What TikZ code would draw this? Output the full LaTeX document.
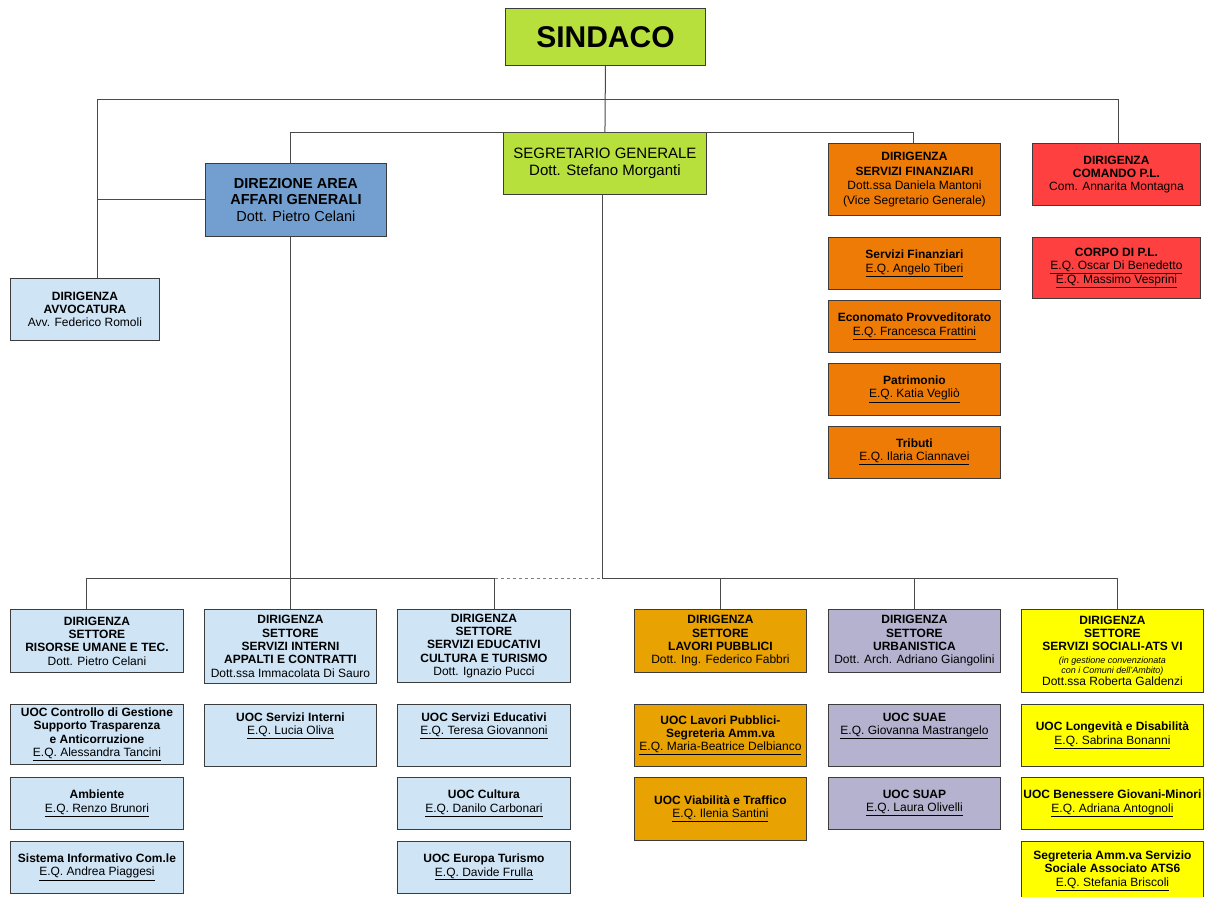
\documentclass[tikz,border=0pt]{standalone}
\usepackage{fontspec}
\setmainfont{Liberation Sans}
\usetikzlibrary{positioning}

\definecolor{limegr}{HTML}{B7E03C}
\definecolor{dirblue}{HTML}{729FCF}
\definecolor{paleblue}{HTML}{CFE4F5}
\definecolor{orng}{HTML}{EE7B06}
\definecolor{plred}{HTML}{FF4040}
\definecolor{gold}{HTML}{E8A202}
\definecolor{lavgrey}{HTML}{B4B2CE}
\definecolor{brightyel}{HTML}{FFFF00}
\definecolor{boxline}{HTML}{3C3C3C}
\definecolor{linegray}{HTML}{4A4A4A}

\newcommand{\eqname}[1]{\underline{E.Q. #1}}

\begin{document}
\begin{tikzpicture}[
    x=1pt, y=1pt,
    node distance=10pt,
    unit/.style={draw=boxline, line width=0.9pt, align=center, inner sep=1pt,
        font=\fontsize{12}{13.3}\selectfont},
    sz/.style 2 args={minimum width=#1pt, minimum height=#2pt},
    greenbox/.style={unit, fill=limegr},
    bluebox/.style={unit, fill=dirblue},
    palebox/.style={unit, fill=paleblue},
    orangebox/.style={unit, fill=orng},
    redbox/.style={unit, fill=plred},
    goldbox/.style={unit, fill=gold},
    lavbox/.style={unit, fill=lavgrey},
    yelbox/.style={unit, fill=brightyel},
    conn/.style={draw=linegray, line width=1pt}
]
\useasboundingbox (0,0) rectangle (1205,-897);

% Vertice
\node[greenbox, sz={200}{57}, anchor=north west, font=\fontsize{30}{33}\selectfont\bfseries]
    (sindaco) at (505,-8) {SINDACO};
\node[greenbox, sz={203}{62}, anchor=north west, font=\fontsize{15}{17.5}\selectfont]
    (segretario) at (503,-132) {SEGRETARIO GENERALE\\Dott. Stefano Morganti};
\node[bluebox, sz={181}{73}, anchor=north west, font=\fontsize{14.5}{16.5}\selectfont]
    (direzione) at (205,-163) {\textbf{DIREZIONE AREA}\\\textbf{AFFARI GENERALI}\\Dott. Pietro Celani};
\node[palebox, sz={149}{62}, anchor=north west]
    (avvocatura) at (10,-278) {\textbf{DIRIGENZA}\\\textbf{AVVOCATURA}\\Avv. Federico Romoli};

% Servizi finanziari
\node[orangebox, sz={172}{72}, anchor=north west, font=\fontsize{12}{14.5}\selectfont]
    (finanz) at (828,-143) {\textbf{DIRIGENZA}\\\textbf{SERVIZI FINANZIARI}\\Dott.ssa Daniela Mantoni\\(Vice Segretario Generale)};
\node[orangebox, sz={172}{52}, below=21pt of finanz] (servfin) {\textbf{Servizi Finanziari}\\\eqname{Angelo Tiberi}};
\node[orangebox, sz={172}{52}, below=of servfin] (economato) {\textbf{Economato Provveditorato}\\\eqname{Francesca Frattini}};
\node[orangebox, sz={172}{52}, below=of economato] (patrimonio) {\textbf{Patrimonio}\\\eqname{Katia Vegliò}};
\node[orangebox, sz={172}{52}, below=of patrimonio] (tributi) {\textbf{Tributi}\\\eqname{Ilaria Ciannavei}};

% Polizia locale
\node[redbox, sz={168}{62}, anchor=north west]
    (comando) at (1032,-143) {\textbf{DIRIGENZA}\\\textbf{COMANDO P.L.}\\Com. Annarita Montagna};
\node[redbox, sz={168}{61}, below=31pt of comando] (corpo) {\textbf{CORPO DI P.L.}\\\eqname{Oscar Di Benedetto}\\\eqname{Massimo Vesprini}};

% Settori
\node[palebox, sz={173}{63}, anchor=north west] (risorse) at (10,-609)
    {\textbf{DIRIGENZA}\\\textbf{SETTORE}\\\textbf{RISORSE UMANE E TEC.}\\Dott. Pietro Celani};
\node[palebox, sz={172}{74}, anchor=north west] (interni) at (204,-609)
    {\textbf{DIRIGENZA}\\\textbf{SETTORE}\\\textbf{SERVIZI INTERNI}\\\textbf{APPALTI E CONTRATTI}\\Dott.ssa Immacolata Di Sauro};
\node[palebox, sz={173}{73}, anchor=north west] (educ) at (397,-609)
    {\textbf{DIRIGENZA}\\\textbf{SETTORE}\\\textbf{SERVIZI EDUCATIVI}\\\textbf{CULTURA E TURISMO}\\Dott. Ignazio Pucci};
\node[goldbox, sz={172}{63}, anchor=north west] (lavori) at (634,-609)
    {\textbf{DIRIGENZA}\\\textbf{SETTORE}\\\textbf{LAVORI PUBBLICI}\\Dott. Ing. Federico Fabbri};
\node[lavbox, sz={172}{63}, anchor=north west] (urban) at (828,-609)
    {\textbf{DIRIGENZA}\\\textbf{SETTORE}\\\textbf{URBANISTICA}\\Dott. Arch. Adriano Giangolini};
\node[yelbox, sz={182}{83}, anchor=north west] (sociali) at (1021,-609)
    {\textbf{DIRIGENZA}\\\textbf{SETTORE}\\\textbf{SERVIZI SOCIALI-ATS VI}\\[-1pt]
     {\fontsize{9}{10}\selectfont\itshape (in gestione convenzionata}\\[-3.5pt]
     {\fontsize{9}{10}\selectfont\itshape con i Comuni dell'Ambito)}\\[-0.5pt]
     Dott.ssa Roberta Galdenzi};

% Unita' operative
\node[palebox, sz={173}{60}, below=31pt of risorse] (controllo)
    {\textbf{UOC Controllo di Gestione}\\\textbf{Supporto Trasparenza}\\\textbf{e Anticorruzione}\\\eqname{Alessandra Tancini}};
\node[palebox, sz={173}{52}, below=12pt of controllo] (ambiente) {\textbf{Ambiente}\\\eqname{Renzo Brunori}};
\node[palebox, sz={173}{52}, below=11pt of ambiente] (sistema) {\textbf{Sistema Informativo Com.le}\\\eqname{Andrea Piaggesi}};

\node[palebox, sz={172}{62}, below=20pt of interni] (uocint) {\textbf{UOC Servizi Interni}\\\eqname{Lucia Oliva}\\[10pt]};

\node[palebox, sz={173}{62}, below=21pt of educ] (uocedu) {\textbf{UOC Servizi Educativi}\\\eqname{Teresa Giovannoni}\\[10pt]};
\node[palebox, sz={173}{52}, below=of uocedu] (cultura) {\textbf{UOC Cultura}\\\eqname{Danilo Carbonari}};
\node[palebox, sz={173}{52}, below=11pt of cultura] (europa) {\textbf{UOC Europa Turismo}\\\eqname{Davide Frulla}};

\node[goldbox, sz={172}{62}, below=31pt of lavori] (uoclav) {\textbf{UOC Lavori Pubblici-}\\\textbf{Segreteria Amm.va}\\\eqname{Maria-Beatrice Delbianco}};
\node[goldbox, sz={172}{63}, below=of uoclav] (viab) {\textbf{UOC Viabilità e Traffico}\\\eqname{Ilenia Santini}};

\node[lavbox, sz={172}{62}, below=31pt of urban] (suae) {\textbf{UOC SUAE}\\\eqname{Giovanna Mastrangelo}\\[10pt]};
\node[lavbox, sz={172}{52}, below=of suae] (suap) {\textbf{UOC SUAP}\\\eqname{Laura Olivelli}};

\node[yelbox, sz={182}{62}, below=11pt of sociali] (longev) {\textbf{UOC Longevità e Disabilità}\\\eqname{Sabrina Bonanni}};
\node[yelbox, sz={182}{52}, below=of longev] (benessere) {\textbf{UOC Benessere Giovani-Minori}\\\eqname{Adriana Antognoli}};
\node[yelbox, sz={182}{59}, below=11pt of benessere] (segreteria) {\textbf{Segreteria Amm.va Servizio}\\\textbf{Sociale Associato ATS6}\\\eqname{Stefania Briscoli}};

% Collegamenti
\coordinate (topL) at (97,-99);
\coordinate (topR) at (1118,-99);
\coordinate (midL) at (290,-132);
\coordinate (midR) at (913,-132);
\coordinate (lowbus) at (602,-578);

\draw[conn] (sindaco.south) -- (segretario.north);
\draw[conn] (topL) -- (topR);
\draw[conn] (topL) -- (topL |- avvocatura.north);
\draw[conn] (topL |- direzione.west) -- (direzione.west);
\draw[conn] (topR) -- (topR |- comando.north);
\draw[conn] (midL) -- (midR);
\draw[conn] (midL) -- (midL |- direzione.north);
\draw[conn] (midR) -- (midR |- finanz.north);
\draw[conn] (midL |- direzione.south) -- (midL |- lowbus);
\draw[conn] (segretario.south -| lowbus) -- (lowbus);

\draw[conn] ([xshift=-10pt]risorse.north |- lowbus) -- ([xshift=11pt]educ.north |- lowbus);
\draw[conn, draw=gray, line width=0.8pt, dashed] ([xshift=11pt]educ.north |- lowbus) -- (lowbus);
\draw[conn] (lowbus) -- ([xshift=5pt]sociali.north |- lowbus);
\foreach \n/\dx in {risorse/-10, interni/0, educ/11, lavori/0, urban/0, sociali/5}
    \draw[conn] ([xshift=\dx pt]\n.north |- lowbus) -- ([xshift=\dx pt]\n.north);

\end{tikzpicture}
\end{document}
